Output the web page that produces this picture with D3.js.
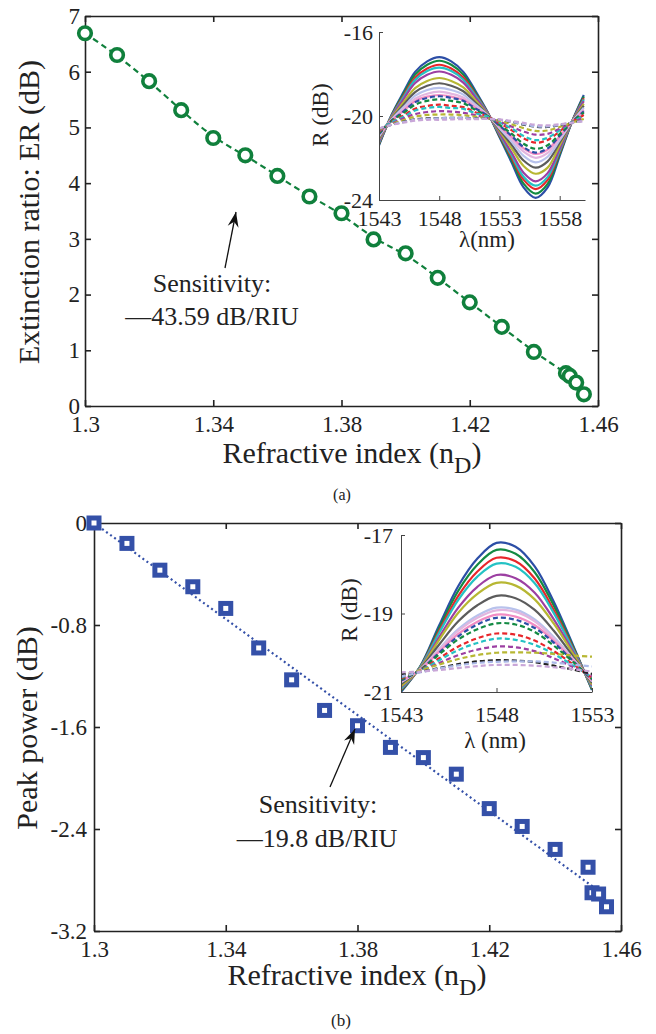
<!DOCTYPE html>
<html><head><meta charset="utf-8">
<script src="https://cdn.jsdelivr.net/npm/d3@7/dist/d3.min.js"></script>
<style>
body{margin:0;background:#fff}
svg{display:block}
</style></head>
<body><svg id="c" width="656" height="1034"></svg>
<script>
// ---------- main data ----------
const refIndex = [1.30,1.31,1.32,1.33,1.34,1.35,1.36,1.37,1.38,1.39,1.40,1.41,1.42,1.43,1.44,1.45,1.4512,1.4532,1.4556];
const erDB     = [6.69,6.30,5.83,5.31,4.81,4.50,4.13,3.76,3.46,2.99,2.74,2.30,1.86,1.42,0.97,0.59,0.54,0.42,0.21];
const peakDB   = [0.00,-0.16,-0.37,-0.50,-0.67,-0.98,-1.23,-1.47,-1.59,-1.76,-1.84,-1.97,-2.24,-2.38,-2.56,-2.70,-2.90,-2.91,-3.01];
const peakFitX = [1.30, 1.4556];
const peakFitY = [0.00, -2.93];

const xTicks = [1.30,1.34,1.38,1.42,1.46];
const xTickLabels = ["1.3","1.34","1.38","1.42","1.46"];
const erTicks = [0,1,2,3,4,5,6,7];
const erTickLabels = ["0","1","2","3","4","5","6","7"];
const pkTicks = [0,-0.8,-1.6,-2.4,-3.2];
const pkTickLabels = ["0","-0.8","-1.6","-2.4","-3.2"];

// ---------- inset (a) data ----------
const lambdaA = [1543,1544,1545,1546,1547,1548,1549,1550,1551,1552,1553,1554,1555,1556,1557,1558,1559,1560];
const specA = [
 [-21.40,-20.00,-18.90,-17.90,-17.40,-17.20,-17.40,-17.90,-18.80,-19.80,-21.00,-22.20,-23.40,-23.90,-23.40,-21.90,-20.30,-19.00],
 [-21.35,-20.02,-18.98,-18.03,-17.56,-17.37,-17.56,-18.03,-18.88,-19.82,-20.95,-22.08,-23.22,-23.70,-23.23,-21.81,-20.30,-19.07],
 [-21.30,-20.05,-19.07,-18.18,-17.74,-17.56,-17.74,-18.17,-18.96,-19.83,-20.90,-21.96,-23.03,-23.48,-23.04,-21.71,-20.30,-19.15],
 [-21.26,-20.06,-19.14,-18.28,-17.86,-17.70,-17.86,-18.27,-19.02,-19.85,-20.86,-21.86,-22.89,-23.32,-22.90,-21.64,-20.30,-19.21],
 [-21.20,-20.09,-19.23,-18.43,-18.04,-17.88,-18.04,-18.41,-19.11,-19.87,-20.80,-21.74,-22.70,-23.11,-22.72,-21.55,-20.30,-19.29],
 [-21.11,-20.13,-19.38,-18.67,-18.33,-18.19,-18.33,-18.64,-19.25,-19.90,-20.71,-21.53,-22.38,-22.75,-22.46,-21.39,-20.30,-19.42],
 [-21.04,-20.16,-19.50,-18.86,-18.56,-18.44,-18.56,-18.82,-19.36,-19.92,-20.64,-21.36,-22.12,-22.46,-22.16,-21.26,-20.30,-19.52],
 [-20.98,-20.19,-19.60,-19.03,-18.76,-18.66,-18.76,-18.98,-19.46,-19.94,-20.58,-21.21,-21.90,-22.21,-21.94,-21.15,-20.30,-19.61],
 [-20.92,-20.21,-19.69,-19.17,-18.94,-18.84,-18.94,-19.12,-19.54,-19.96,-20.52,-21.09,-21.70,-21.99,-21.76,-21.05,-20.30,-19.69],
 [-20.88,-20.23,-19.77,-19.29,-19.08,-19.00,-19.08,-19.23,-19.61,-19.97,-20.48,-20.98,-21.54,-21.81,-21.60,-20.97,-20.30,-19.75],
 [-20.86,-20.24,-19.80,-19.34,-19.14,-19.06,-19.14,-19.28,-19.64,-19.98,-20.46,-20.94,-21.48,-21.74,-21.54,-20.94,-20.30,-19.78],
 [-20.82,-20.26,-19.87,-19.46,-19.28,-19.21,-19.28,-19.39,-19.71,-19.99,-20.42,-20.84,-21.32,-21.56,-21.39,-20.86,-20.30,-19.84],
 [-20.74,-20.29,-19.99,-19.65,-19.52,-19.46,-19.52,-19.58,-19.82,-20.02,-20.34,-20.67,-21.06,-21.27,-21.14,-20.73,-20.30,-19.95],
 [-20.71,-20.31,-20.05,-19.74,-19.62,-19.57,-19.62,-19.66,-19.87,-20.03,-20.31,-20.59,-20.95,-21.15,-21.03,-20.68,-20.30,-19.99],
 [-20.70,-20.38,-20.12,-19.91,-19.81,-19.77,-19.79,-19.85,-19.96,-20.10,-20.27,-20.50,-20.74,-20.89,-20.85,-20.60,-20.32,-20.08],
 [-20.66,-20.40,-20.20,-20.03,-19.95,-19.93,-19.93,-19.96,-20.03,-20.11,-20.23,-20.39,-20.58,-20.71,-20.69,-20.52,-20.32,-20.14],
 [-20.61,-20.42,-20.28,-20.16,-20.11,-20.10,-20.09,-20.09,-20.11,-20.13,-20.18,-20.28,-20.41,-20.51,-20.52,-20.43,-20.32,-20.22],
 [-20.60,-20.42,-20.29,-20.18,-20.13,-20.11,-20.10,-20.10,-20.12,-20.14,-20.18,-20.27,-20.39,-20.49,-20.50,-20.42,-20.32,-20.23],
 [-20.59,-20.43,-20.32,-20.22,-20.18,-20.18,-20.16,-20.15,-20.15,-20.14,-20.16,-20.24,-20.33,-20.42,-20.45,-20.39,-20.32,-20.25]
];
const insetAXTicks = [1543,1548,1553,1558];
const insetAYTicks = [-16,-20,-24];

// ---------- inset (b) data ----------
const lambdaB = [1543,1544,1545,1546,1547,1548,1549,1550,1551,1552,1553];
const specB = [
 [-21.00,-20.35,-19.30,-18.30,-17.60,-17.20,-17.30,-17.80,-18.70,-19.80,-20.95],
 [-20.97,-20.36,-19.37,-18.42,-17.76,-17.38,-17.48,-17.95,-18.80,-19.84,-20.93],
 [-20.94,-20.37,-19.44,-18.55,-17.93,-17.58,-17.67,-18.11,-18.91,-19.88,-20.90],
 [-20.92,-20.37,-19.49,-18.65,-18.06,-17.73,-17.81,-18.23,-18.99,-19.91,-20.88],
 [-20.88,-20.39,-19.60,-18.85,-18.32,-18.02,-18.10,-18.47,-19.15,-19.97,-20.84],
 [-20.85,-20.40,-19.67,-18.98,-18.50,-18.22,-18.29,-18.64,-19.26,-20.02,-20.81],
 [-20.80,-20.41,-19.79,-19.20,-18.79,-18.55,-18.61,-18.91,-19.44,-20.09,-20.77],
 [-20.75,-20.42,-19.90,-19.40,-19.05,-18.85,-18.90,-19.15,-19.60,-20.15,-20.73],
 [-20.74,-20.43,-19.92,-19.44,-19.11,-18.92,-18.96,-19.20,-19.64,-20.16,-20.72],
 [-20.72,-20.43,-19.97,-19.52,-19.21,-19.03,-19.08,-19.30,-19.70,-20.19,-20.70],
 [-20.71,-20.44,-20.00,-19.58,-19.28,-19.11,-19.16,-19.37,-19.74,-20.21,-20.69],
 [-20.69,-20.44,-20.04,-19.66,-19.40,-19.25,-19.28,-19.47,-19.82,-20.23,-20.67],
 [-20.65,-20.45,-20.14,-19.84,-19.63,-19.51,-19.54,-19.69,-19.96,-20.29,-20.64],
 [-20.63,-20.46,-20.19,-19.93,-19.75,-19.64,-19.67,-19.80,-20.03,-20.32,-20.62],
 [-20.60,-20.47,-20.26,-20.06,-19.92,-19.84,-19.86,-19.96,-20.14,-20.36,-20.59],
 [-20.58,-20.45,-20.30,-20.16,-20.06,-20.00,-19.99,-20.00,-20.03,-20.07,-20.10],
 [-20.55,-20.49,-20.39,-20.29,-20.22,-20.19,-20.20,-20.24,-20.33,-20.43,-20.54],
 [-20.60,-20.50,-20.40,-20.32,-20.26,-20.23,-20.22,-20.22,-20.25,-20.30,-20.35],
 [-20.50,-20.48,-20.44,-20.39,-20.34,-20.31,-20.31,-20.33,-20.37,-20.42,-20.48]
];
const insetBXTicks = [1543,1548,1553];
const insetBYTicks = [-17,-19,-21];

const specColors = ["#2c4ea6","#138a43","#e8262b","#24c2c4","#9c3fa2","#b7b733","#5c5c5c","#b8c2ec","#e2b6df","#f28cc4",
                    "#2c4ea6","#138a43","#e8262b","#24c2c4","#9c3fa2","#b7b733","#222222","#aab8e8","#c9a6d8"];
const specDashed = [false,false,false,false,false,false,false,false,false,false,
                    true,true,true,true,true,true,true,true,true];

// ---------- drawing ----------
const FONT = '"Liberation Serif", Tinos, "Times New Roman", "Nimbus Roman", "DejaVu Serif", serif';
const svg = d3.select("#c");
const FRAME = "#222";

function styleAxis(g, fs, color, sw){
  g.attr("font-family", null).attr("font-size", null);
  g.selectAll("text").style("font-size", fs + "px");
  g.select(".domain").attr("stroke", color).attr("stroke-width", sw);
  g.selectAll(".tick line").attr("stroke", color).attr("stroke-width", sw);
}

function mainFrame(x, y, yTicks, yLabels, padY){
  const [x0, x1] = x.range(); const [y0, y1] = y.range();
  const gb = svg.append("g").attr("transform", `translate(0,${y0})`)
    .call(d3.axisBottom(x).tickValues(xTicks).tickSize(-6).tickSizeOuter(0).tickPadding(10)
      .tickFormat((d,i)=>xTickLabels[i]));
  styleAxis(gb, 23, FRAME, 1.6);
  const gt = svg.append("g").attr("transform", `translate(0,${y1})`)
    .call(d3.axisTop(x).tickValues(xTicks).tickSize(-6).tickSizeOuter(0).tickFormat(""));
  styleAxis(gt, 23, FRAME, 1.6);
  const gl = svg.append("g").attr("transform", `translate(${x0},0)`)
    .call(d3.axisLeft(y).tickValues(yTicks).tickSize(-6).tickSizeOuter(0).tickPadding(padY)
      .tickFormat((d,i)=>yLabels[i]));
  styleAxis(gl, 23, FRAME, 1.6);
  const gr = svg.append("g").attr("transform", `translate(${x1},0)`)
    .call(d3.axisRight(y).tickValues(yTicks).tickSize(-6).tickSizeOuter(0).tickFormat(""));
  styleAxis(gr, 23, FRAME, 1.6);
}

function arrow(x1, y1, x2, y2){
  svg.append("line").attr("x1",x1).attr("y1",y1).attr("x2",x2).attr("y2",y2)
    .attr("stroke","#111").attr("stroke-width",1.3);
  const a = Math.atan2(y2-y1, x2-x1), L = 15, W = 5.5, N = 10;
  const p = [[x2,y2],
    [x2 - L*Math.cos(a) + W*Math.sin(a), y2 - L*Math.sin(a) - W*Math.cos(a)],
    [x2 - N*Math.cos(a), y2 - N*Math.sin(a)],
    [x2 - L*Math.cos(a) - W*Math.sin(a), y2 - L*Math.sin(a) + W*Math.cos(a)]];
  svg.append("path").attr("d","M"+p.join("L")+"Z").attr("fill","#111");
}

function inset(id, lam, spec, x, y, xt, yt, padY, padX){
  const [x0,x1] = x.range(); const [y0,y1] = y.range();
  svg.append("clipPath").attr("id",id).append("rect")
    .attr("x",x0).attr("y",y1-2).attr("width",x1-x0).attr("height",y0-y1+2);
  const gc = svg.append("g").attr("clip-path",`url(#${id})`);
  const line = d3.line().x((d,i)=>x(lam[i])).y(d=>y(d)).curve(d3.curveCatmullRom.alpha(0.5));
  spec.forEach((s,k)=>{
    gc.append("path").attr("d", line(s)).attr("fill","none")
      .attr("stroke", specColors[k]).attr("stroke-width", 2.2)
      .attr("stroke-dasharray", specDashed[k] ? "5,3" : null);
  });
  const gl = svg.append("g").attr("transform",`translate(${x0},0)`)
    .call(d3.axisLeft(y).tickValues(yt).tickSize(-4).tickSizeOuter(0).tickPadding(padY).tickFormat(d=>String(d)));
  styleAxis(gl, 22, "#444", 1);
  const gb = svg.append("g").attr("transform",`translate(0,${y0})`)
    .call(d3.axisBottom(x).tickValues(xt).tickSize(-4).tickSizeOuter(0).tickPadding(padX).tickFormat(d=>String(d)));
  styleAxis(gb, 22, "#444", 1);
}

// ===== (a) =====
const xA = d3.scaleLinear().domain([1.30,1.46]).range([85,598]);
const yA = d3.scaleLinear().domain([0,7]).range([406,16]);
mainFrame(xA, yA, erTicks, erTickLabels, 5);

const green = "#10803c";
svg.append("path").datum(erDB)
  .attr("d", d3.line().x((d,i)=>xA(refIndex[i])).y(d=>yA(d)).curve(d3.curveBasis))
  .attr("fill","none").attr("stroke",green).attr("stroke-width",2.2).attr("stroke-dasharray","6,4");
svg.append("g").selectAll("circle").data(erDB).join("circle")
  .attr("cx",(d,i)=>xA(refIndex[i])).attr("cy",d=>yA(d)).attr("r",6.3)
  .attr("fill","#fff").attr("stroke",green).attr("stroke-width",3.6);

inset("clipA", lambdaA, specA,
  d3.scaleLinear().domain([1543,1560.1]).range([379,585]),
  d3.scaleLinear().domain([-24,-16]).range([200,32]),
  insetAXTicks, insetAYTicks, 6, 10);
svg.append("text").attr("transform","translate(328,115) rotate(-90)").attr("text-anchor","middle")
  .style("font-size","23px").text("R (dB)");
svg.append("text").attr("x",487).attr("y",247).attr("text-anchor","middle")
  .style("font-size","23px").text("λ(nm)");

arrow(225, 268, 236, 212);
svg.append("text").attr("x",212).attr("y",292).attr("text-anchor","middle").style("font-size","26px").text("Sensitivity:");
svg.append("text").attr("x",212).attr("y",325).attr("text-anchor","middle").style("font-size","26px").text("—43.59 dB/RIU");

svg.append("text").attr("transform","translate(39,212) rotate(-90)").attr("text-anchor","middle")
  .style("font-size","30px").text("Extinction ratio: ER (dB)");
const tA = svg.append("text").attr("x",352).attr("y",463).attr("text-anchor","middle").style("font-size","30px");
tA.append("tspan").text("Refractive index (n");
tA.append("tspan").attr("dy",10).style("font-size","24px").text("D");
tA.append("tspan").attr("dy",-10).text(")");
svg.append("text").attr("x",342).attr("y",500).attr("text-anchor","middle").style("font-size","16px").text("(a)");

// ===== (b) =====
const xB = d3.scaleLinear().domain([1.30,1.46]).range([94,621]);
const yB = d3.scaleLinear().domain([-3.2,0]).range([931,523]);
mainFrame(xB, yB, pkTicks, pkTickLabels, 7);

const blue = "#3450a8";
svg.append("path").datum(peakFitY)
  .attr("d", d3.line().x((d,i)=>xB(peakFitX[i])).y(d=>yB(d)))
  .attr("fill","none").attr("stroke",blue).attr("stroke-width",2.2).attr("stroke-dasharray","2,3");
const sq = svg.append("g").selectAll("g").data(peakDB).join("g")
  .attr("transform",(d,i)=>`translate(${xB(refIndex[i])},${yB(d)})`);
sq.append("rect").attr("x",-7.5).attr("y",-7.5).attr("width",15).attr("height",15).attr("fill",blue);
sq.append("rect").attr("x",-2.5).attr("y",-2.5).attr("width",5).attr("height",5).attr("fill","#fff");

inset("clipB", lambdaB, specB,
  d3.scaleLinear().domain([1543,1553]).range([401,592]),
  d3.scaleLinear().domain([-21,-17]).range([692,535]),
  insetBXTicks, insetBYTicks, 8, 14);
svg.append("text").attr("transform","translate(357,610) rotate(-90)").attr("text-anchor","middle")
  .style("font-size","23px").text("R (dB)");
svg.append("text").attr("x",495).attr("y",748).attr("text-anchor","middle")
  .style("font-size","23px").text("λ (nm)");

arrow(330, 787, 355, 729);
svg.append("text").attr("x",318).attr("y",813).attr("text-anchor","middle").style("font-size","26px").text("Sensitivity:");
svg.append("text").attr("x",317).attr("y",847).attr("text-anchor","middle").style("font-size","26px").text("—19.8 dB/RIU");

svg.append("text").attr("transform","translate(37,728) rotate(-90)").attr("text-anchor","middle")
  .style("font-size","30px").text("Peak power (dB)");
const tB = svg.append("text").attr("x",357).attr("y",985).attr("text-anchor","middle").style("font-size","30px");
tB.append("tspan").text("Refractive index (n");
tB.append("tspan").attr("dy",10).style("font-size","24px").text("D");
tB.append("tspan").attr("dy",-10).text(")");
svg.append("text").attr("x",341).attr("y",1026).attr("text-anchor","middle").style("font-size","17px").text("(b)");

// apply serif font and colour to every text
svg.selectAll("text").style("font-family", FONT).attr("fill", "#222");
</script>
</body></html>
